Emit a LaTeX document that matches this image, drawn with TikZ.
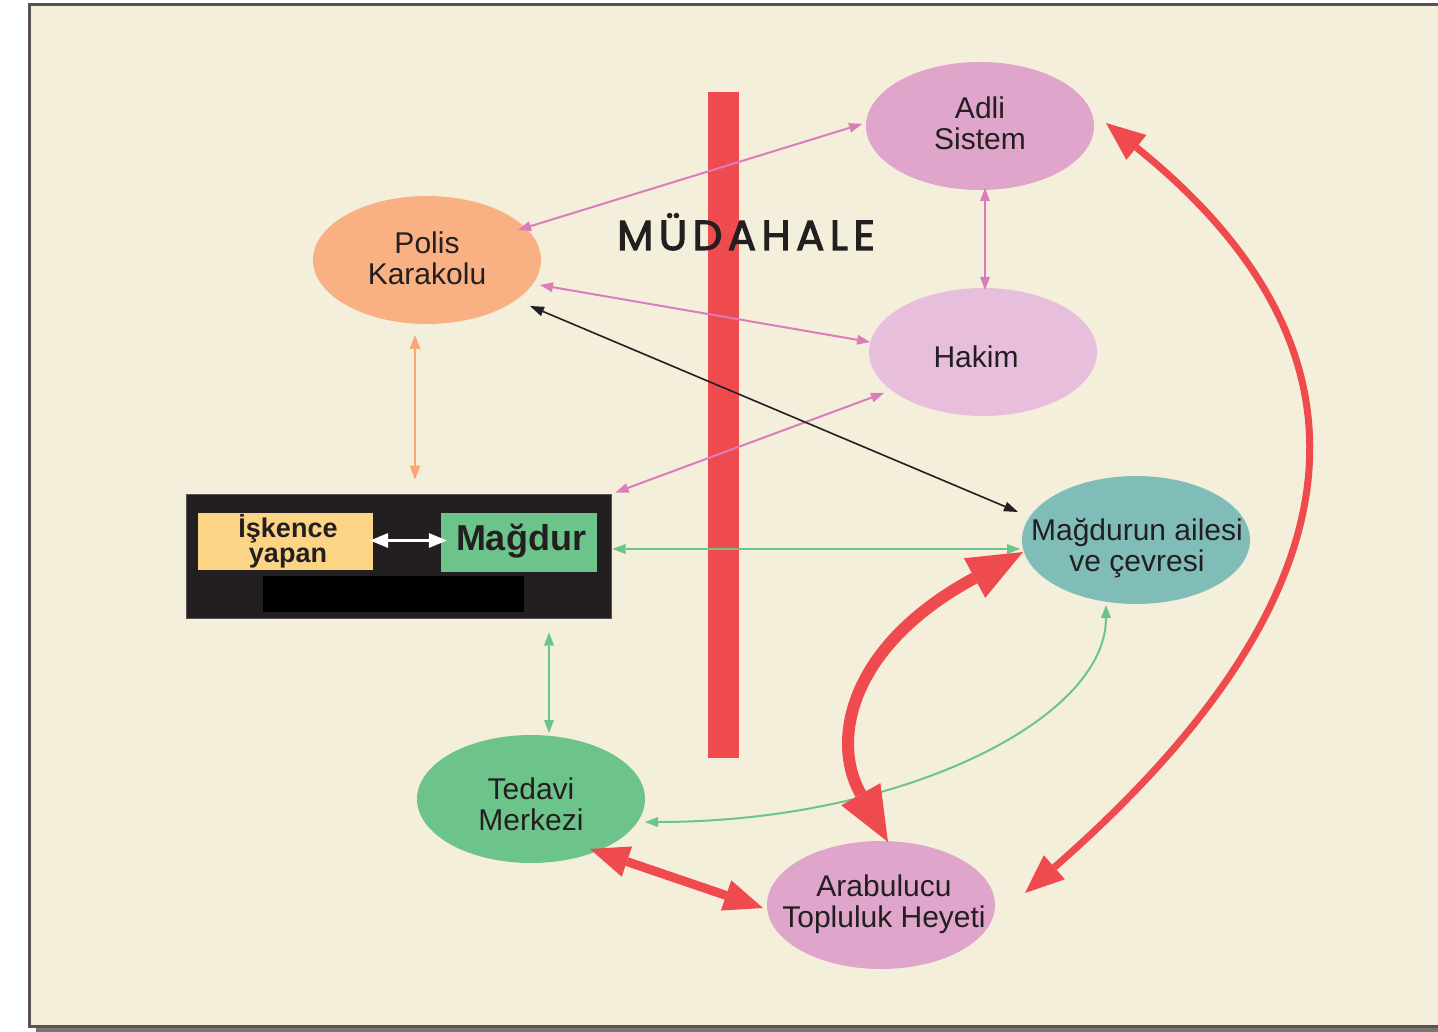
\documentclass[tikz,border=0pt]{standalone}
\usepackage{fontspec}
\setmainfont{Liberation Sans}
\newfontfamily\mudfont[LetterSpace=13,FakeBold=2.5]{Poppins}
\usetikzlibrary{shapes.geometric,arrows.meta,calc}
\definecolor{cream}{HTML}{F4EFDA}
\definecolor{framegray}{HTML}{5A5253}
\definecolor{shadowgray}{HTML}{767676}
\definecolor{redc}{HTML}{EF4B4F}
\definecolor{pinkc}{HTML}{DA7DBA}
\definecolor{adlifill}{HTML}{DFA5CB}
\definecolor{hakimfill}{HTML}{E7BEDB}
\definecolor{polisfill}{HTML}{F9B184}
\definecolor{orangec}{HTML}{F8A878}
\definecolor{famfill}{HTML}{80BDB8}
\definecolor{greenc}{HTML}{6CC48A}
\definecolor{iskfill}{HTML}{FCD486}
\definecolor{boxbg}{HTML}{231F20}
\definecolor{txt}{HTML}{231F20}
\begin{document}
\begin{tikzpicture}[x=1pt,y=-1pt,
  ell/.style={ellipse, minimum width=228pt, minimum height=128pt, inner sep=0pt, draw=none},
  lbl/.style={align=center, inner sep=0pt, text=txt, font=\fontsize{30}{31}\selectfont},
  pinkarr/.style={draw=pinkc, line width=2pt, arrows={Triangle[length=13pt,width=10pt,line width=0pt]-Triangle[length=13pt,width=10pt,line width=0pt]}},
  orangearr/.style={draw=orangec, line width=2pt, arrows={Triangle[length=14pt,width=11pt,line width=0pt]-Triangle[length=14pt,width=11pt,line width=0pt]}},
  greenarr/.style={draw=greenc, line width=2pt, arrows={Triangle[length=13pt,width=10pt,line width=0pt]-Triangle[length=13pt,width=10pt,line width=0pt]}},
  blackarr/.style={draw=txt, line width=1.6pt, arrows={Triangle[length=14pt,width=10pt,line width=0pt]-Triangle[length=14pt,width=10pt,line width=0pt]}},
  whitearr/.style={draw=white, line width=3pt, arrows={Triangle[length=18pt,width=15pt,line width=0pt]-Triangle[length=18pt,width=15pt,line width=0pt]}},
  redthin/.style={draw=redc, line width=7pt, arrows={Triangle[length=39pt,width=32pt,line width=0pt]-Triangle[length=39pt,width=32pt,line width=0pt]}},
  redmed/.style={draw=redc, line width=9pt, arrows={Triangle[length=39pt,width=32pt,line width=0pt]-Triangle[length=39pt,width=32pt,line width=0pt]}},
  redthick/.style={draw=redc, line width=12pt, arrows={Triangle[length=55pt,width=45pt,line width=0pt]-Triangle[length=55pt,width=45pt,line width=0pt]}}
]
\useasboundingbox (0,0) rectangle (1438,1032);
% page and frame
\fill[white] (0,0) rectangle (1438,1032);
\fill[shadowgray] (36,1026) rectangle (1438,1032);
\draw[fill=cream, draw=framegray, line width=3pt] (29.5,4.5) rectangle (1452,1026.5);

% intervention bar
\node[fill=redc, minimum width=31pt, minimum height=666pt, inner sep=0pt] (bar) at (723.5,425) {};

% ellipses
\node[ell, fill=adlifill] (adli) at (980,126) {};
\node[ell, fill=polisfill] (polis) at (427,260) {};
\node[ell, fill=hakimfill] (hakim) at (983,352) {};
\node[ell, fill=famfill] (fam) at (1136,540) {};
\node[ell, fill=greenc] (ted) at (531,799) {};
\node[ell, fill=adlifill] (arab) at (881,905) {};

\node[lbl] (adliT) at (980,123) {Adli\\Sistem};
\node[lbl] (polisT) at (427,258) {Polis\\Karakolu};
\node[lbl] (hakimT) at (976,357) {Hakim};
\node[lbl] (famT) at (1137,548) {Mağdurun ailesi\\ve çevresi};
\node[lbl] (tedT) at (531,804) {Tedavi\\Merkezi};
\node[lbl] (arabT) at (884,904) {Arabulucu\\Topluluk Heyeti};

% torture box
\node[fill=boxbg, draw=framegray, line width=1pt, minimum width=425pt, minimum height=124pt, inner sep=0pt] (box) at (398.5,556) {};
\node[fill=iskfill, minimum width=175pt, minimum height=57pt, inner sep=0pt] (isk) at (285.5,541.5) {};
\node[fill=greenc, minimum width=156pt, minimum height=59pt, inner sep=0pt] (mag) at (519,542.5) {};
\node[fill=black, minimum width=261pt, minimum height=36pt, inner sep=0pt] (blk) at (393.5,594) {};
\node[align=center, inner sep=0pt, text=txt, font=\bfseries\fontsize{27}{25}\selectfont] (iskT) at (288,541) {İşkence\\yapan};
\node[inner sep=0pt, text=txt, font=\bfseries\fontsize{36}{38}\selectfont] (magT) at (521,541) {Mağdur};
\draw[whitearr] ($(isk.east)+(-3,-1)$) -- ($(mag.west)+(6,-2)$);

% title
\node[anchor=base west, inner sep=0pt, text=txt, font=\mudfont\fontsize{42}{42}\selectfont] (mud) at (617,250) {MÜDAHALE};

% thin connectors
\draw[pinkarr] ($(polis)+(91,-30)$) -- ($(adli)+(-118,-2)$);
\draw[pinkarr] ($(polis)+(113,25)$) -- ($(hakim)+(-113,-10)$);
\draw[pinkarr] ($(adli)+(5,62)$) -- ($(hakim)+(2,-62)$);
\draw[pinkarr] ($(hakim)+(-99,41)$) -- ($(box.north east)+(4,-1)$);
\draw[blackarr] ($(polis)+(103,46)$) -- ($(fam)+(-118,-28)$);
\draw[orangearr] ($(polis)+(-12,75)$) -- ($(box.north)+(16.5,-14)$);
\draw[greenarr] ($(box.east)+(1,-7)$) -- ($(fam)+(-116,9)$);
\draw[greenarr] ($(box.south)+(150.5,14)$) -- ($(ted)+(18,-66)$);
\draw[greenarr] ($(fam)+(-30,65)$) .. controls (1106,720) and (900,822) .. ($(ted)+(114,23)$);

% thick red connectors
\draw[redthin] ($(adli)+(126,-3)$) .. controls (1388,350) and (1370,591) .. ($(arab)+(144,-12)$);
\draw[redthick] ($(fam)+(-113,12)$) .. controls (850,645) and (830,740) .. ($(arab)+(7,-63)$);
\draw[redmed] ($(ted)+(59,50)$) -- ($(arab)+(-118,3)$);
\end{tikzpicture}
\end{document}
